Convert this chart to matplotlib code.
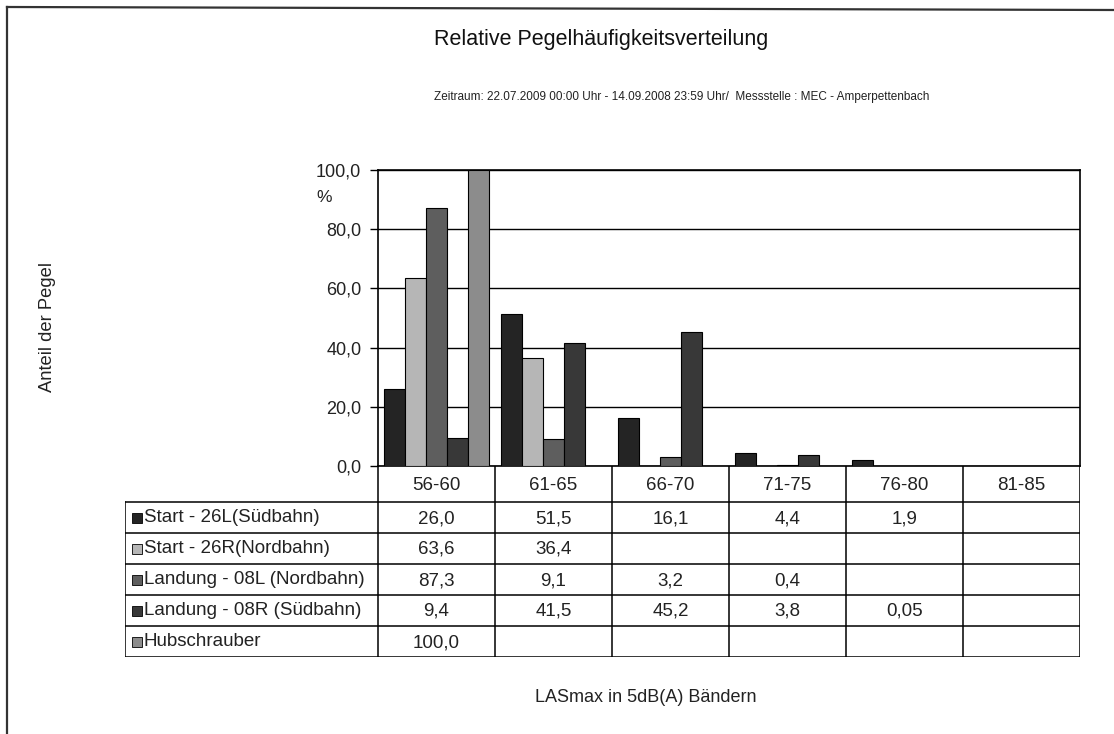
import numpy as np
import matplotlib.pyplot as plt
from matplotlib.lines import Line2D
from matplotlib.patches import Rectangle

plt.rcParams['font.family'] = ['Liberation Sans', 'DejaVu Sans']

# Pegelklassen (LASmax, 5 dB Bänder)
bands = ["56-60", "61-65", "66-70", "71-75", "76-80", "81-85"]

series = ["Start - 26L(Südbahn)", "Start - 26R(Nordbahn)",
          "Landung - 08L (Nordbahn)", "Landung - 08R (Südbahn)",
          "Hubschrauber"]

# Anteile in %, None = kein Wert
start_26l = [26.0, 51.5, 16.1, 4.4, 1.9, None]
start_26r = [63.6, 36.4, None, None, None, None]
landung_08l = [87.3, 9.1, 3.2, 0.4, None, None]
landung_08r = [9.4, 41.5, 45.2, 3.8, 0.05, None]
hubschrauber = [100.0, None, None, None, None, None]

values = [start_26l, start_26r, landung_08l, landung_08r, hubschrauber]
colors = ["#242424", "#b6b6b6", "#5e5e5e", "#383838", "#8c8c8c"]

W, H = 1114, 734
fig = plt.figure(figsize=(W / 100, H / 100), dpi=100)
fig.patch.set_facecolor("white")


def px(x0, y0, x1, y1):
    # pixel box -> figure fraction rect
    return [x0 / W, 1 - y1 / H, (x1 - x0) / W, (y1 - y0) / H]


# chart frame (top and left edge visible)
fig.add_artist(Line2D([7 / W, 7 / W], [0, 1 - 7 / H], color="#333333", lw=1.6))
fig.add_artist(Line2D([7 / W, 1], [1 - 7 / H, 1 - 10 / H], color="#333333", lw=1.6))

# plot area
px_left, px_right, px_top, px_bottom = 378, 1080, 170, 466
ax = fig.add_axes(px(px_left, px_top, px_right, px_bottom))
n_cat = len(bands)
x = np.arange(n_cat)
bar_w = 0.181
for i, (vals, col) in enumerate(zip(values, colors)):
    offs = (i - 2) * bar_w
    for j, v in enumerate(vals):
        if v is None:
            continue
        ax.bar(x[j] + offs, v, width=bar_w, color=col, edgecolor="black",
               linewidth=0.8, zorder=3)

ax.set_xlim(-0.5, n_cat - 0.5)
ax.set_ylim(0, 100)
ax.set_yticks(np.arange(0, 101, 20))
ax.set_yticklabels([f"{t:.1f}".replace(".", ",") for t in np.arange(0, 101, 20)],
                   fontsize=13, color="#222222")
ax.tick_params(axis="y", length=6, width=1, pad=6, direction="out")
ax.set_xticks([])
ax.grid(axis="y", color="black", linewidth=1, zorder=0)
for s in ax.spines.values():
    s.set_linewidth(1.2)
    s.set_color("black")
fig.text(316 / W, 1 - 198 / H, "%", fontsize=12.5, color="#222222", va="center")

# data table below the plot
leg_left = 125
row_h = 31
header_h = 36
n_rows = len(series)
tab_bottom = px_bottom + header_h + n_rows * row_h
cat_px = (px_right - px_left) / n_cat
tx = fig.add_axes(px(leg_left, px_bottom, px_right, tab_bottom))
tx.set_xlim(leg_left, px_right)
tx.set_ylim(tab_bottom, px_bottom)
tx.axis("off")

lw = 1.1
# header row: only category columns
for j in range(n_cat + 1):
    xl = px_left + j * cat_px
    tx.plot([xl, xl], [px_bottom, tab_bottom], color="black", lw=lw)
tx.plot([leg_left, leg_left], [px_bottom + header_h, tab_bottom], color="black", lw=lw)
for r in range(n_rows + 1):
    yl = px_bottom + header_h + r * row_h
    tx.plot([leg_left, px_right], [yl, yl], color="black", lw=lw)

fs_tab = 13.5
for j, b in enumerate(bands):
    tx.text(px_left + (j + 0.5) * cat_px, px_bottom + header_h / 2 + 2, b,
            ha="center", va="center", fontsize=fs_tab, color="#222222")

for r, (name, vals, col) in enumerate(zip(series, values, colors)):
    yc = px_bottom + header_h + (r + 0.5) * row_h
    tx.add_patch(Rectangle((leg_left + 7, yc - 5), 10, 10, facecolor=col,
                           edgecolor="black", lw=0.6))
    tx.text(leg_left + 19, yc, name, ha="left", va="center",
            fontsize=fs_tab, color="#222222")
    for j, v in enumerate(vals):
        if v is None:
            continue
        txt = (f"{v:.2f}" if v < 0.1 else f"{v:.1f}").replace(".", ",")
        tx.text(px_left + (j + 0.5) * cat_px, yc + 1, txt, ha="center",
                va="center", fontsize=fs_tab, color="#222222")

# titles and axis labels
fig.text(601 / W, 1 - 40 / H, "Relative Pegelhäufigkeitsverteilung",
         ha="center", va="center", fontsize=15.5, color="#111111")
fig.text(682 / W, 1 - 97 / H,
         "Zeitraum: 22.07.2009 00:00 Uhr - 14.09.2008 23:59 Uhr/  Messstelle : MEC - Amperpettenbach",
         ha="center", va="center", fontsize=8.5, color="#222222")
fig.text(48 / W, 1 - 327 / H, "Anteil der Pegel", rotation=90,
         ha="center", va="center", fontsize=13.2, color="#222222")
fig.text(646 / W, 1 - 697 / H, "LASmax in 5dB(A) Bändern",
         ha="center", va="center", fontsize=13, color="#222222")

fig.savefig("out.png", dpi=100, facecolor="white")
